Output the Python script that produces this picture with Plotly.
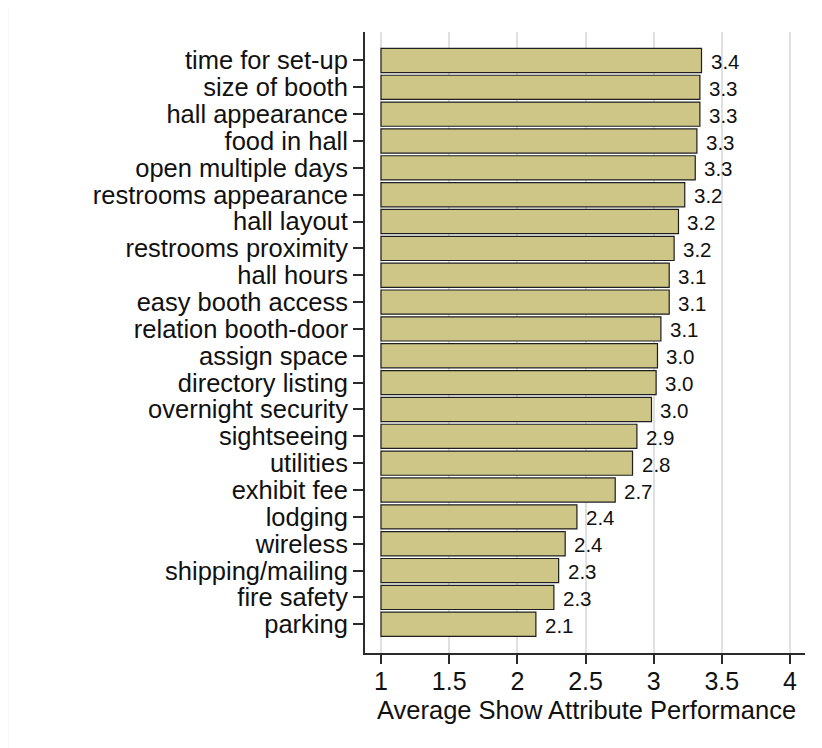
import plotly.graph_objects as go

categories = [
    "time for set-up", "size of booth", "hall appearance", "food in hall",
    "open multiple days", "restrooms appearance", "hall layout",
    "restrooms proximity", "hall hours", "easy booth access",
    "relation booth-door", "assign space", "directory listing",
    "overnight security", "sightseeing", "utilities", "exhibit fee",
    "lodging", "wireless", "shipping/mailing", "fire safety", "parking",
]
values = [
    3.351, 3.339, 3.339, 3.317, 3.305, 3.228, 3.182,
    3.150, 3.114, 3.114, 3.053, 3.028, 3.018, 2.984,
    2.877, 2.845, 2.718, 2.437, 2.351, 2.303, 2.268, 2.136,
]
value_labels = [
    "3.4", "3.3", "3.3", "3.3", "3.3", "3.2", "3.2",
    "3.2", "3.1", "3.1", "3.1", "3.0", "3.0", "3.0",
    "2.9", "2.8", "2.7", "2.4", "2.4", "2.3", "2.3", "2.1",
]
x_ticks = [1, 1.5, 2, 2.5, 3, 3.5, 4]
x_tick_text = ["1", "1.5", "2", "2.5", "3", "3.5", "4"]
x_title = "Average Show Attribute Performance"
base_value = 1.0

FONT = "Liberation Sans, Arial, Helvetica, sans-serif"

fig = go.Figure()
fig.add_trace(go.Bar(
    y=categories,
    x=[v - base_value for v in values],
    base=base_value,
    orientation="h",
    width=0.9,
    marker=dict(color="#cdc686", line=dict(color="#1e1e1e", width=1.2)),
    hovertemplate="%{y}: %{customdata:.2f}<extra></extra>",
    customdata=values,
))

for cat, v, lab in zip(categories, values, value_labels):
    fig.add_annotation(
        x=v, y=cat, text=lab, showarrow=False,
        xanchor="left", yanchor="middle", xshift=7, yshift=-1,
        font=dict(family=FONT, size=20.5, color="#111111"),
    )

fig.add_annotation(
    x=0.5034, y=0, xref="paper", yref="paper", text=x_title,
    showarrow=False, xanchor="center", yanchor="top", yshift=-41,
    font=dict(family=FONT, size=25.5, color="#111111"),
)

fig.add_shape(
    type="rect", xref="paper", yref="paper",
    x0=-0.8114, x1=1.2, y0=-0.3, y1=1.0435,
    line=dict(color="#eeeeee", width=1), fillcolor="rgba(0,0,0,0)",
    layer="below",
)

fig.update_layout(
    width=822, height=748,
    margin=dict(l=357, r=25, t=24, b=103),
    paper_bgcolor="white", plot_bgcolor="white",
    showlegend=False,
    font=dict(family=FONT, color="#111111"),
    bargap=0.1,
    xaxis=dict(
        range=[0.8826, 4.110],
        tickmode="array", tickvals=x_ticks, ticktext=x_tick_text,
        showgrid=True, gridcolor="#e0e0e0", gridwidth=2,
        zeroline=False,
        showline=True, linecolor="#2a2a2a", linewidth=2,
        ticks="outside", ticklen=9, tickwidth=2, tickcolor="#2a2a2a",
        ticklabelstandoff=-4,
        tickfont=dict(family=FONT, size=25, color="#111111"),
        fixedrange=True,
    ),
    yaxis=dict(
        type="category",
        categoryorder="array", categoryarray=categories,
        tickmode="array", tickvals=categories, ticktext=categories,
        range=[22.07, -1.06],
        showgrid=False, zeroline=False,
        showline=True, linecolor="#2a2a2a", linewidth=2,
        ticks="outside", ticklen=10, tickwidth=1.5, tickcolor="#2a2a2a",
        tickfont=dict(family=FONT, size=25.5, color="#111111"),
        fixedrange=True,
    ),
)

fig.write_html("out.html")
